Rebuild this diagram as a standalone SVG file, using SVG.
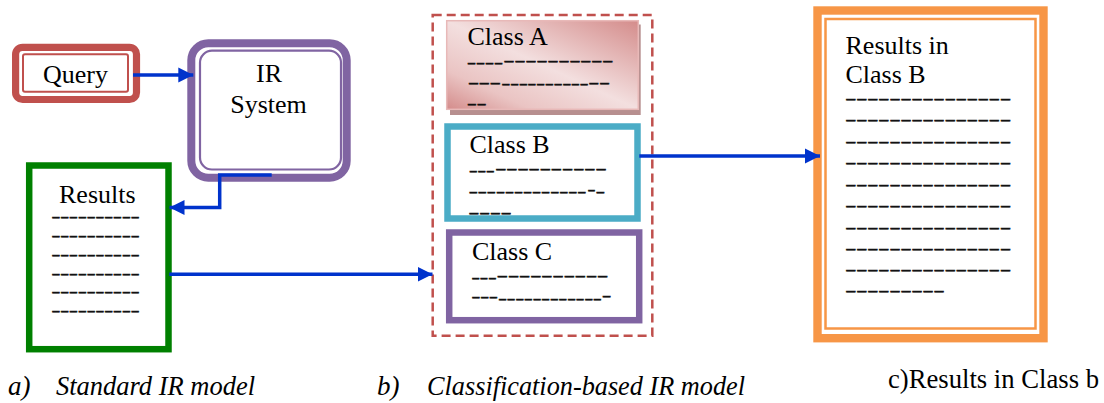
<svg xmlns="http://www.w3.org/2000/svg" width="1104" height="403" viewBox="0 0 1104 403">
<style>
text{font-family:"Liberation Serif","Times New Roman",serif;fill:#000;}
.t{font-size:26px;}
.d{font-size:15px;font-weight:bold;fill:#111;stroke:#111;stroke-width:0.45px;}
.cap{font-size:27px;font-style:italic;}
.conn{fill:none;stroke:#0033cc;stroke-width:3.5;}
</style>
<defs>
<marker id="ah" markerUnits="userSpaceOnUse" markerWidth="16" markerHeight="16" refX="15" refY="8" orient="auto">
<path d="M0,0.5 L15,8 L0,15.5 Z" fill="#0033cc"/>
</marker>
<linearGradient id="gA" x1="1" y1="0" x2="0" y2="1">
<stop offset="0" stop-color="#d48c8b"/>
<stop offset="0.5" stop-color="#f3dfdf"/>
<stop offset="0.78" stop-color="#eac4c3"/>
<stop offset="1" stop-color="#d48c8b"/>
</linearGradient>
</defs>
<rect width="1104" height="403" fill="#fff"/>

<g id="query">
<rect x="15.6" y="47.3" width="120.9" height="52.2" rx="7" fill="#fff" stroke="#c0504d" stroke-width="7.2"/>
<rect x="23" y="54.3" width="105" height="37.4" rx="2" fill="#fff" stroke="#c0504d" stroke-width="2"/>
<text class="t" x="75.5" y="83.3" text-anchor="middle">Query</text>
</g>

<g id="ir-system">
<rect x="191.3" y="43.3" width="155.4" height="134.4" rx="17" fill="#fff" stroke="#8064a2" stroke-width="8"/>
<rect x="200" y="50.7" width="141" height="118.8" rx="12" fill="#fff" stroke="#8064a2" stroke-width="2.2"/>
<text class="t" x="269" y="82.3" text-anchor="middle">IR</text>
<text class="t" x="268.5" y="113.3" text-anchor="middle">System</text>
</g>

<g id="results">
<rect x="29.2" y="165.5" width="139.3" height="183.7" fill="#fff" stroke="#008000" stroke-width="6.5"/>
<text class="t" x="59" y="202.7">Results</text>
<text class="d" x="51.5" y="221.4" textLength="88" lengthAdjust="spacingAndGlyphs">----------</text>
<text class="d" x="51.5" y="240.2" textLength="88" lengthAdjust="spacingAndGlyphs">----------</text>
<text class="d" x="51.5" y="258.8" textLength="88" lengthAdjust="spacingAndGlyphs">----------</text>
<text class="d" x="51.5" y="277.5" textLength="88" lengthAdjust="spacingAndGlyphs">----------</text>
<text class="d" x="51.5" y="296.2" textLength="88" lengthAdjust="spacingAndGlyphs">----------</text>
<text class="d" x="51.5" y="315.1" textLength="88" lengthAdjust="spacingAndGlyphs">----------</text>
</g>

<g id="classification-group">
<rect x="432.7" y="15" width="219.6" height="320.7" fill="none" stroke="#c0504d" stroke-width="2.5" stroke-dasharray="9 5"/>
</g>

<g id="class-a">
<rect x="450" y="24.5" width="190.7" height="90.5" fill="#b78f8f"/>
<rect x="446.7" y="20.7" width="191.6" height="88.6" fill="url(#gA)" stroke="#e8b9b8" stroke-width="1.5"/>
<text class="t" x="467.5" y="45">Class A</text>
<text class="d" x="467.1" y="66.7" textLength="36" lengthAdjust="spacingAndGlyphs">----</text>
<text class="d" x="503.6" y="65.4" textLength="109.7" lengthAdjust="spacingAndGlyphs">----------</text>
<text class="d" x="467.9" y="86.7" textLength="33" lengthAdjust="spacingAndGlyphs">---</text>
<text class="d" x="501.5" y="88.4" textLength="87" lengthAdjust="spacingAndGlyphs">----------</text>
<text class="d" x="588.6" y="86.7" textLength="21.2" lengthAdjust="spacingAndGlyphs">--</text>
<text class="d" x="467" y="108.4" textLength="19.4" lengthAdjust="spacingAndGlyphs">--</text>
</g>

<g id="class-b">
<rect x="447.5" y="126.5" width="190" height="92" fill="#fff" stroke="#4bacc6" stroke-width="6.5"/>
<text class="t" x="469.5" y="153.3">Class B</text>
<text class="d" x="468.9" y="175.4" textLength="25.7" lengthAdjust="spacingAndGlyphs">---</text>
<text class="d" x="495.2" y="173.4" textLength="111.4" lengthAdjust="spacingAndGlyphs">----------</text>
<text class="d" x="468.8" y="195.7" textLength="117.5" lengthAdjust="spacingAndGlyphs">-------------</text>
<text class="d" x="587.6" y="194.1" textLength="8" lengthAdjust="spacingAndGlyphs">-</text>
<text class="d" x="595.8" y="195.7" textLength="9.2" lengthAdjust="spacingAndGlyphs">-</text>
<text class="d" x="468.6" y="216.7" textLength="43" lengthAdjust="spacingAndGlyphs">----</text>
</g>

<g id="class-c">
<rect x="449.2" y="232.5" width="190" height="87.7" fill="#fff" stroke="#8064a2" stroke-width="6.5"/>
<text class="t" x="472" y="260">Class C</text>
<text class="d" x="471.5" y="281.9" textLength="25" lengthAdjust="spacingAndGlyphs">---</text>
<text class="d" x="496.8" y="280.4" textLength="111.4" lengthAdjust="spacingAndGlyphs">----------</text>
<text class="d" x="471.5" y="300.7" textLength="26.4" lengthAdjust="spacingAndGlyphs">---</text>
<text class="d" x="498.2" y="302.7" textLength="103.5" lengthAdjust="spacingAndGlyphs">------------</text>
<text class="d" x="602.1" y="300.4" textLength="9.2" lengthAdjust="spacingAndGlyphs">-</text>
</g>

<g id="results-class-b">
<rect x="817.5" y="10.5" width="226" height="327.7" fill="#fff" stroke="#f79646" stroke-width="8.4"/>
<rect x="825.5" y="19" width="210" height="309.5" fill="#fff" stroke="#f79646" stroke-width="2.5"/>
<text class="t" x="845.5" y="54">Results in</text>
<text class="t" x="845.5" y="83.3">Class B</text>
<text class="d" x="845.2" y="103.4" textLength="165.8" lengthAdjust="spacingAndGlyphs">---------------</text>
<text class="d" x="845.2" y="124.4" textLength="165.8" lengthAdjust="spacingAndGlyphs">---------------</text>
<text class="d" x="845.2" y="145.9" textLength="165.8" lengthAdjust="spacingAndGlyphs">---------------</text>
<text class="d" x="845.2" y="167.4" textLength="165.8" lengthAdjust="spacingAndGlyphs">---------------</text>
<text class="d" x="845.2" y="188.7" textLength="165.8" lengthAdjust="spacingAndGlyphs">---------------</text>
<text class="d" x="845.2" y="210.1" textLength="165.8" lengthAdjust="spacingAndGlyphs">---------------</text>
<text class="d" x="845.2" y="231.7" textLength="165.8" lengthAdjust="spacingAndGlyphs">---------------</text>
<text class="d" x="845.2" y="252.7" textLength="165.8" lengthAdjust="spacingAndGlyphs">---------------</text>
<text class="d" x="845.2" y="274.4" textLength="165.8" lengthAdjust="spacingAndGlyphs">---------------</text>
<text class="d" x="845.2" y="295.4" textLength="99.5" lengthAdjust="spacingAndGlyphs">---------</text>
</g>

<g id="connectors">
<path class="conn" d="M133,75 H193.3" marker-end="url(#ah)"/>
<path class="conn" d="M271.7,175 H219.7 V207.5 H169.5" marker-end="url(#ah)"/>
<path class="conn" d="M169.3,274.3 H432.5" marker-end="url(#ah)"/>
<path class="conn" d="M639.3,156 H820" marker-end="url(#ah)"/>
</g>

<g id="captions">
<text class="cap" x="8" y="395">a)</text>
<text class="cap" x="56" y="395" textLength="199" lengthAdjust="spacingAndGlyphs">Standard IR model</text>
<text class="cap" x="377" y="395">b)</text>
<text class="cap" x="427" y="395" textLength="318" lengthAdjust="spacingAndGlyphs">Classification-based IR model</text>
<text x="888" y="388" style="font-size:27px" textLength="211" lengthAdjust="spacingAndGlyphs">c)Results in Class b</text>
</g>
</svg>
